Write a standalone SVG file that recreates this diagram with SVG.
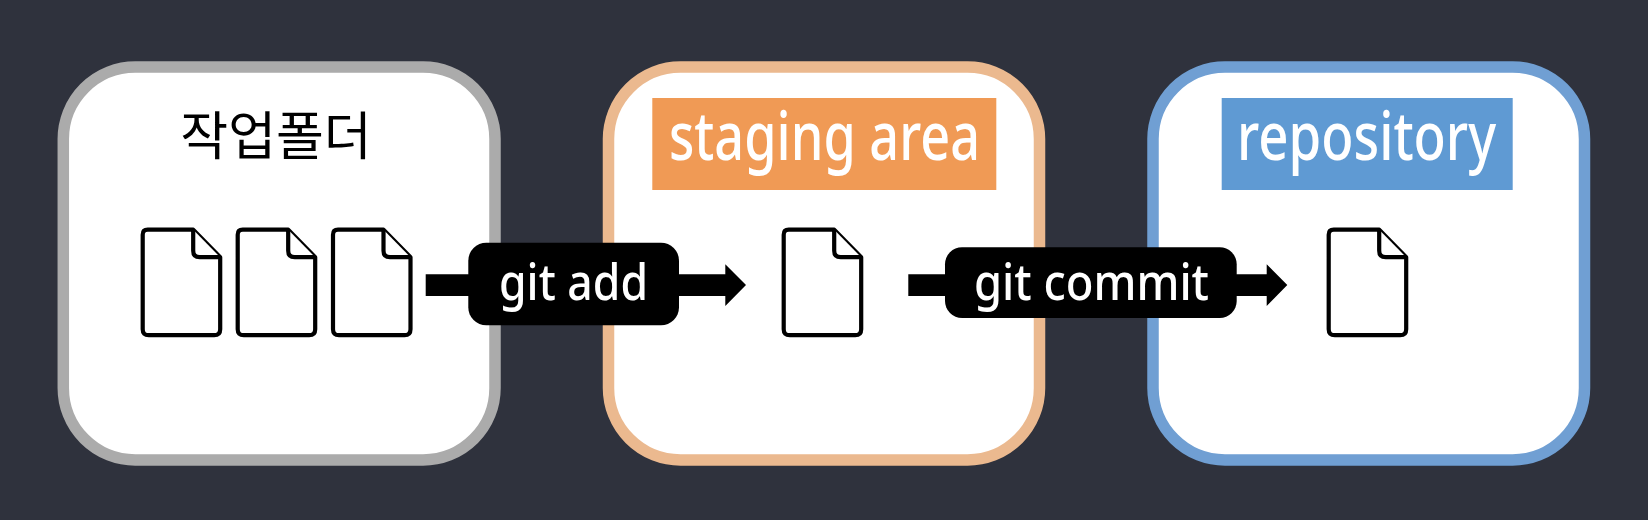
<svg xmlns="http://www.w3.org/2000/svg" xmlns:xlink="http://www.w3.org/1999/xlink" width="1648" height="520" viewBox="0 0 1648 520">
<style>
.box{fill:#fff;stroke-width:11.5}
.doc{fill:#fff;stroke:#000;stroke-width:4.200;stroke-linejoin:round}
.t{font-family:"Noto Sans","Noto Sans CJK KR",sans-serif;text-anchor:middle}
.head{font-size:68px;fill:#fff;font-weight:500}
.cmd{font-size:50px;fill:#fff;font-weight:500}
</style>
<defs>
<filter id="soft" filterUnits="userSpaceOnUse" x="0" y="0" width="1648" height="520"><feGaussianBlur stdDeviation="0.5"/></filter>
<g id="file">
<path class="doc" d="M7 2H52.500L79.500 29.500V101.500Q79.500 107.500 73.500 107.500H8Q2 107.500 2 101.500V7Q2 2 7 2Z"/>
<path class="doc" d="M52.500 2V23Q52.500 29.500 59 29.500H79.500"/>
</g>
</defs>
<rect width="1648" height="520" fill="#2f323d"/>
<g filter="url(#soft)">
<g id="node-workdir">
<rect class="box" x="63.300" y="67" width="431.700" height="393" rx="72" stroke="#ababab"/>
<text class="t" x="276" y="155" font-size="52" fill="#000" font-family="Noto Sans CJK KR">작업폴더</text>
<use xlink:href="#file" x="140.700" y="227.700"/>
<use xlink:href="#file" x="235.700" y="227.700"/>
<use xlink:href="#file" x="331" y="227.700"/>
</g>
<g id="node-staging">
<rect class="box" x="608.500" y="67" width="431" height="393" rx="72" stroke="#ebb98f"/>
<rect x="652.300" y="98" width="344" height="92" fill="#f09a55"/>
<text class="t head" x="824.500" y="160" textLength="311" lengthAdjust="spacingAndGlyphs">staging area</text>
<use xlink:href="#file" x="781.700" y="227.700"/>
</g>
<g id="node-repository">
<rect class="box" x="1153" y="67" width="431.500" height="393" rx="72" stroke="#6f9fd3"/>
<rect x="1221.700" y="98" width="291" height="92" fill="#5f9ad3"/>
<text class="t head" x="1366.500" y="160" textLength="259" lengthAdjust="spacingAndGlyphs">repository</text>
<use xlink:href="#file" x="1326.700" y="227.700"/>
</g>
<g id="connectors">
<path d="M425.700 274.300H725.300V264.300L746 285L725.300 306V296H425.700Z" fill="#000"/>
<path d="M908.300 274.300H1266.700V264.300L1287.300 285L1266.700 306V296H908.300Z" fill="#000"/>
<g id="label-add">
<rect x="468.300" y="242.700" width="210.700" height="82.600" rx="18" fill="#000"/>
<text class="t cmd" x="573.500" y="300" textLength="149" lengthAdjust="spacingAndGlyphs">git add</text>
</g>
<g id="label-commit">
<rect x="945" y="247.300" width="291.700" height="70.700" rx="17" fill="#000"/>
<text class="t cmd" x="1091.500" y="300" textLength="235" lengthAdjust="spacingAndGlyphs">git commit</text>
</g>
</g>
</g>
</svg>
